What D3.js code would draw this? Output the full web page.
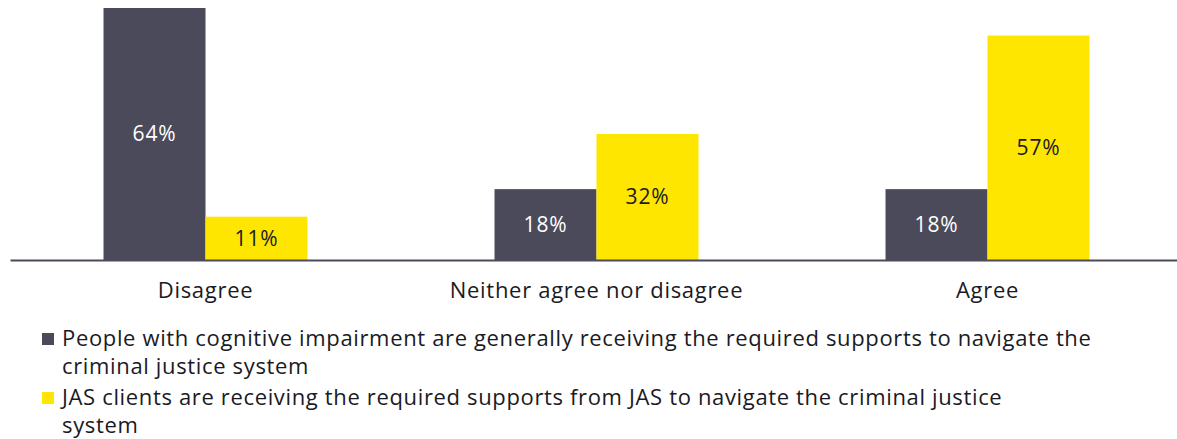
<!DOCTYPE html>
<html>
<head>
<meta charset="utf-8">
<script src="https://cdn.jsdelivr.net/npm/d3@7/dist/d3.min.js"></script>
<style>
  html, body { margin: 0; padding: 0; background: #fff; }
  svg { display: block; font-family: "Open Sans", "Noto Sans", sans-serif; }
</style>
</head>
<body>
<svg id="chart" width="1177" height="439"></svg>
<script>
// Survey responses, percent of respondents
const categories = ["Disagree", "Neither agree nor disagree", "Agree"];
const seriesNames = [
  "People with cognitive impairment are generally receiving the required supports to navigate the criminal justice system",
  "JAS clients are receiving the required supports from JAS to navigate the criminal justice system"
];
const peopleValues = [64, 18, 18];
const jasValues = [11, 32, 57];

const legendLines = [
  ["People with cognitive impairment are generally receiving the required supports to navigate the", "criminal justice system"],
  ["JAS clients are receiving the required supports from JAS to navigate the criminal justice", "system"]
];

const colors = ["#4b4a5b", "#ffe600"];
const labelColors = ["#ffffff", "#1a1a24"];
const textColor = "#1a1a24";

const svg = d3.select("#chart");
const baseY = 260;

const x0 = d3.scaleBand().domain(categories).range([10, 1183]).padding(0);
const x1 = d3.scaleBand().domain(d3.range(seriesNames.length))
  .range([0, x0.bandwidth()]).paddingInner(0).paddingOuter(0.917);
const y = d3.scaleLinear().domain([0, 64]).range([baseY, 8]);

const seriesValues = [peopleValues, jasValues];
const data = [];
categories.forEach((c, i) => {
  seriesValues.forEach((vals, s) => data.push({ cat: c, s, v: vals[i] }));
});

const bars = svg.append("g").selectAll("g").data(data).join("g");
bars.append("rect")
  .attr("x", d => x0(d.cat) + x1(d.s))
  .attr("y", d => y(d.v))
  .attr("width", x1.bandwidth())
  .attr("height", d => y(0) - y(d.v))
  .attr("fill", d => colors[d.s]);
bars.append("text")
  .attr("x", d => x0(d.cat) + x1(d.s) + x1.bandwidth() / 2)
  .attr("y", d => (y(d.v) + y(0)) / 2)
  .attr("dy", "0.35em")
  .attr("text-anchor", "middle")
  .attr("font-size", 21)
  .attr("letter-spacing", 0.8)
  .attr("fill", d => labelColors[d.s])
  .text(d => d.v + "%");

// baseline axis with category labels
const xAxis = d3.axisBottom(x0).tickSize(0).tickPadding(22);
const ax = svg.append("g").attr("transform", `translate(0,${baseY})`).call(xAxis);
ax.select(".domain").attr("stroke", "#4b4a5b").attr("stroke-width", 2);
ax.selectAll(".tick text")
  .attr("font-size", 22)
  .attr("letter-spacing", 0.7)
  .attr("font-family", "'Open Sans', 'Noto Sans', sans-serif")
  .attr("fill", textColor);

// legend
const legend = svg.append("g");
const itemTops = [346, 405];
legendLines.forEach((lines, i) => {
  legend.append("rect")
    .attr("x", 42).attr("y", itemTops[i] - 13)
    .attr("width", 12).attr("height", 12)
    .attr("fill", colors[i]);
  const t = legend.append("text")
    .attr("x", 62).attr("y", itemTops[i])
    .attr("font-size", 22)
    .attr("letter-spacing", 0.65)
    .attr("fill", textColor);
  lines.forEach((ln, k) => {
    t.append("tspan").attr("x", 62).attr("dy", k === 0 ? 0 : 28).text(ln);
  });
});
</script>
</body>
</html>
